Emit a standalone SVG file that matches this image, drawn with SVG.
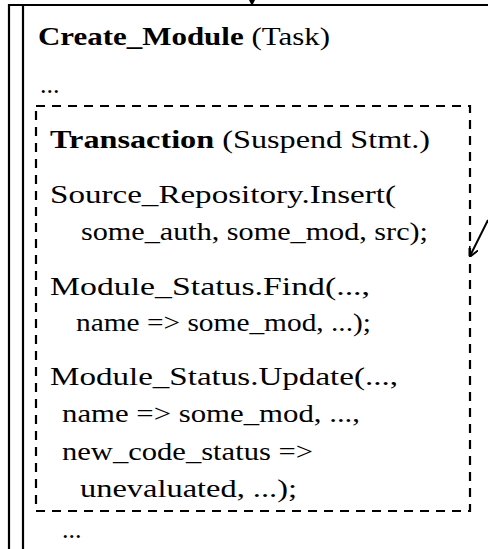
<svg xmlns="http://www.w3.org/2000/svg" width="488" height="549" viewBox="0 0 488 549">
<style>
.t{font-family:"Liberation Serif","DejaVu Serif",serif;font-size:26px;fill:#000}
.b{font-weight:bold}
.frame{stroke:#000;stroke-width:2.2;fill:none}
.dash{stroke:#000;stroke-width:2.2;fill:none;stroke-dasharray:9,7}
.conn{stroke:#000;stroke-width:2;fill:none}
</style>
<defs>
<marker id="ah" markerWidth="10" markerHeight="10" refX="9" refY="5" orient="auto" markerUnits="userSpaceOnUse">
<path d="M0,0 L10,5 L0,10" fill="none" stroke="#000" stroke-width="2"/>
</marker>
<marker id="ah2" markerWidth="8" markerHeight="8" refX="7" refY="4" orient="auto" markerUnits="userSpaceOnUse">
<path d="M0,0 L8,4 L0,8 Z" fill="#000"/>
</marker>
</defs>
<g id="task">
<path class="frame" d="M488,5 L9,5 L9,549 M23,5 L23,549"/>
<text class="t" x="38" y="45" textLength="292" lengthAdjust="spacingAndGlyphs"><tspan class="b">Create_Module</tspan> (Task)</text>
<text class="t" x="40" y="93">...</text>
<text class="t" x="62" y="538">...</text>
</g>
<g id="transaction">
<rect class="dash" x="36" y="106" width="434" height="405"/>
<text class="t" x="50" y="148" textLength="380" lengthAdjust="spacingAndGlyphs"><tspan class="b">Transaction</tspan> (Suspend Stmt.)</text>
<text class="t" x="50" y="203" textLength="346" lengthAdjust="spacingAndGlyphs">Source_Repository.Insert(</text>
<text class="t" x="81" y="240" textLength="347" lengthAdjust="spacingAndGlyphs">some_auth, some_mod, src);</text>
<text class="t" x="50" y="295" textLength="320" lengthAdjust="spacingAndGlyphs">Module_Status.Find(...,</text>
<text class="t" x="76" y="331" textLength="295" lengthAdjust="spacingAndGlyphs">name =&gt; some_mod, ...);</text>
<text class="t" x="50" y="385" textLength="348" lengthAdjust="spacingAndGlyphs">Module_Status.Update(...,</text>
<text class="t" x="62" y="422" textLength="298" lengthAdjust="spacingAndGlyphs">name =&gt; some_mod, ...,</text>
<text class="t" x="62" y="460" textLength="251" lengthAdjust="spacingAndGlyphs">new_code_status =&gt;</text>
<text class="t" x="80" y="497" textLength="217" lengthAdjust="spacingAndGlyphs">unevaluated, ...);</text>
</g>
<g id="connectors">
<path class="conn" d="M252,0 L252,5" marker-end="url(#ah2)"/>
<path class="conn" d="M488,220 L470,256" marker-end="url(#ah)"/>
</g>
</svg>
